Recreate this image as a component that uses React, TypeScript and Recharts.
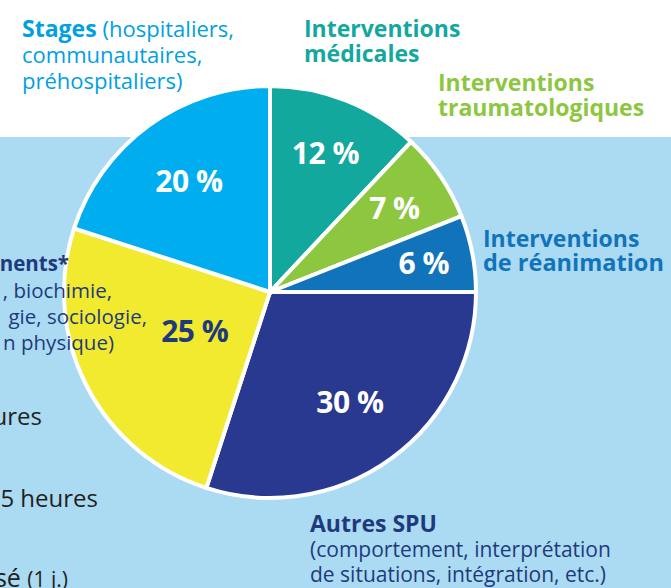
import { PieChart, Pie, Cell } from 'recharts';

const categories = [
  'Interventions médicales',
  'Interventions traumatologiques',
  'Interventions de réanimation',
  'Autres SPU',
  'Enseignements',
  'Stages',
];
const shares = [12, 7, 6, 30, 25, 20];
const sliceColors = ['#13a89e', '#8dc63f', '#1174bb', '#2a3990', '#f2ea2f', '#00aeef'];
const valueColors = ['#ffffff', '#ffffff', '#ffffff', '#ffffff', '#1f3a7c', '#ffffff'];

const data = categories.map((name, i) => ({ name, value: shares[i] }));

const FONT = '"Open Sans", "Noto Sans", sans-serif';
const RADIAN = Math.PI / 180;
// how far from the centre each percentage sits, as a share of the radius
const labelReach = [0.73, 0.73, 0.76, 0.66, 0.41, 0.67];

const renderLabel = (props: any) => {
  const { cx, cy, midAngle, outerRadius, index, value } = props;
  const r = outerRadius * labelReach[index];
  const x = cx + r * Math.cos(-midAngle * RADIAN);
  const y = cy + r * Math.sin(-midAngle * RADIAN);
  return (
    <text
      x={x}
      y={y}
      fill={valueColors[index]}
      textAnchor="middle"
      dominantBaseline="central"
      style={{ fontFamily: FONT, fontWeight: 700, fontSize: 30, letterSpacing: -0.5 }}
    >
      {`${value} %`}
    </text>
  );
};

// baseline-positioned text line; size in px, anchor on left or right edge
const line = (x: number, baseline: number, color: string, size: number, bold: boolean, anchor: 'start' | 'end' = 'start') => ({
  position: 'absolute' as const,
  left: anchor === 'start' ? x : undefined,
  right: anchor === 'end' ? 671 - x : undefined,
  top: baseline - 0.888 * size,
  color,
  fontSize: size,
  fontWeight: bold ? 700 : 400,
  fontFamily: FONT,
  lineHeight: 1,
  whiteSpace: 'nowrap' as const,
});

export default function App() {
  return (
    <div
      style={{
        position: 'fixed',
        left: 0,
        top: 0,
        width: 671,
        height: 588,
        overflow: 'hidden',
        background: '#ffffff',
      }}
    >
      <div style={{ position: 'absolute', left: 0, top: 137, width: 671, height: 451, background: '#abdaf3' }} />

      <div style={{ position: 'absolute', left: 0, top: 0 }}>
        <PieChart width={671} height={588} margin={{ top: 0, right: 0, bottom: 0, left: 0 }}>
          <Pie
            data={data}
            dataKey="value"
            nameKey="name"
            cx={270}
            cy={292}
            outerRadius={206}
            startAngle={90}
            endAngle={-270}
            stroke="#ffffff"
            strokeWidth={4}
            label={renderLabel}
            labelLine={false}
            isAnimationActive={false}
          >
            {data.map((d, i) => (
              <Cell key={d.name} fill={sliceColors[i]} />
            ))}
          </Pie>
        </PieChart>
      </div>

      {/* category captions */}
      <div style={line(22, 37, '#00a0e3', 23, true)}>
        Stages <span style={{ fontWeight: 400, fontSize: 22 }}>(hospitaliers,</span>
      </div>
      <div style={line(22, 63, '#00a0e3', 22, false)}>communautaires,</div>
      <div style={line(22, 89, '#00a0e3', 22, false)}>préhospitaliers)</div>

      <div style={line(304, 37, '#13a89e', 23, true)}>Interventions</div>
      <div style={line(304, 62, '#13a89e', 23, true)}>médicales</div>

      <div style={line(438, 91, '#8dc63f', 23, true)}>Interventions</div>
      <div style={line(438, 116, '#8dc63f', 23, true)}>traumatologiques</div>

      <div style={line(483, 247, '#1174bb', 23, true)}>Interventions</div>
      <div style={line(483, 272, '#1174bb', 23.5, true)}>de réanimation</div>

      <div style={line(310, 532, '#1f3a7c', 23, true)}>Autres SPU</div>
      <div style={line(310, 558, '#1f3a7c', 21, false)}>(comportement, interprétation</div>
      <div style={line(310, 583, '#1f3a7c', 21, false)}>de situations, intégration, etc.)</div>

      <div style={line(69, 271, '#1f3a7c', 20.5, true, 'end')}>nents*</div>
      <div style={line(112, 298, '#1f3a7c', 20.5, false, 'end')}>, biochimie,</div>
      <div style={line(147, 324, '#1f3a7c', 20.5, false, 'end')}>gie, sociologie,</div>
      <div style={line(114, 350, '#1f3a7c', 20.5, false, 'end')}>n physique)</div>

      <div style={line(42, 425, '#231f20', 24, false, 'end')}>ures</div>
      <div style={line(98, 507, '#231f20', 24, false, 'end')}>5 heures</div>
      <div style={line(68, 587, '#231f20', 25, false, 'end')}>
        sé <span style={{ fontSize: 21 }}>(1 j.)</span>
      </div>
    </div>
  );
}
